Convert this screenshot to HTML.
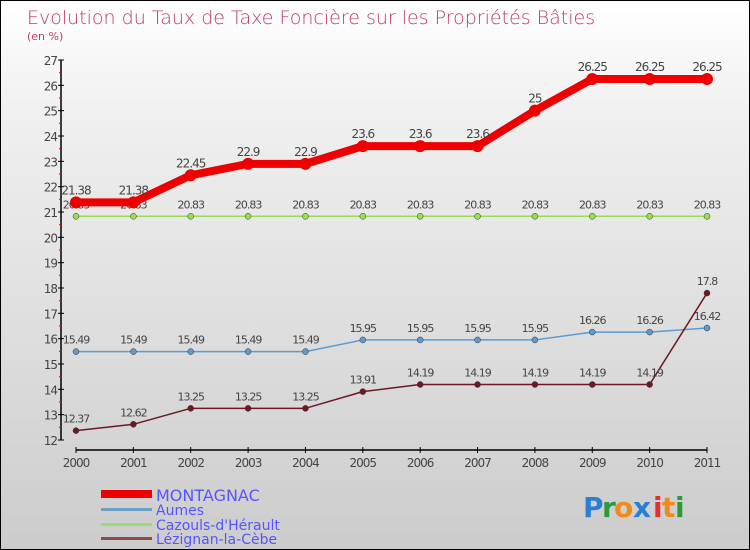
<!DOCTYPE html>
<html><head><meta charset="utf-8"><style>
html,body{margin:0;padding:0}
body{width:750px;height:550px;overflow:hidden}
#wrap{position:relative;width:748px;height:548px;border:1px solid #000;background:linear-gradient(#ffffff,#f0f0f0 20%,#cccccc)}
svg{position:absolute;left:0;top:0}
text{font-family:"DejaVu Sans","Liberation Sans",sans-serif}
</style></head><body>
<div id="wrap">
<svg id="chart" width="748" height="548">
<text x="26" y="23" font-size="19" fill="#c0396a" style="font-weight:200">Evolution du Taux de Taxe Foncière sur les Propriétés Bâties</text>
<text x="26" y="39" font-size="11" fill="#c0396a">(en %)</text>
<text x="155" y="500" font-size="16" fill="#5555ff">MONTAGNAC</text>
<text x="155" y="514" font-size="14" fill="#5555ff">Aumes</text>
<text x="155" y="529" font-size="14" fill="#5555ff">Cazouls-d'Hérault</text>
<text x="155" y="543" font-size="14" fill="#5555ff">Lézignan-la-Cèbe</text>
<rect x="100" y="489" width="51" height="8" fill="#ee0000"/>
<rect x="100" y="507" width="51" height="3" fill="#6fa0c8"/>
<rect x="100" y="522" width="51" height="3" fill="#99dd77"/>
<rect x="100" y="536" width="51" height="3" fill="#8a4a4a"/>
<g font-size="28" font-weight="bold">
<text x="582" y="516" fill="#2a7fd4">P</text><text x="601" y="516" fill="#2a9a3a">r</text><text x="613" y="516" fill="#f08a1a">o</text><text x="632" y="516" fill="#2a7fd4">x</text><text x="652" y="516" fill="#e03030">i</text><text x="661" y="516" fill="#f08a1a">t</text><text x="674" y="516" fill="#2a9a3a">i</text>
</g>
</svg>
</div>
<script>
const years=[2000,2001,2002,2003,2004,2005,2006,2007,2008,2009,2010,2011];
const montagnac=[21.38,21.38,22.45,22.9,22.9,23.6,23.6,23.6,25,26.25,26.25,26.25];
const aumes=[15.49,15.49,15.49,15.49,15.49,15.95,15.95,15.95,15.95,16.26,16.26,16.42];
const cazouls=[20.83,20.83,20.83,20.83,20.83,20.83,20.83,20.83,20.83,20.83,20.83,20.83];
const lezignan=[12.37,12.62,13.25,13.25,13.25,13.91,14.19,14.19,14.19,14.19,14.19,17.8];
const yTicks=[12,13,14,15,16,17,18,19,20,21,22,23,24,25,26,27];
const svg=document.getElementById('chart');
const NS='http://www.w3.org/2000/svg';
const yMin=12,yMax=27,py0=439,py1=59;
const X=i=>75+i*(706-75)/(years.length-1);
const Y=v=>py0-(v-yMin)/(yMax-yMin)*(py0-py1);
function mk(t,a){const e=document.createElementNS(NS,t);for(const k in a)e.setAttribute(k,a[k]);svg.appendChild(e);return e;}
let e;
e=mk('line',{x1:60,y1:py1,x2:60,y2:py0,stroke:'#000','stroke-width':1.5});


e=mk('line',{x1:75,y1:449,x2:706,y2:449,stroke:'#000','stroke-width':1.5});


yTicks.forEach(v=>{
 e=mk('line',{x1:57,x2:63,y1:Y(v),y2:Y(v),stroke:'#000'});
 
 
 if(v<yMax){e=mk('line',{x1:58,x2:61,y1:Y(v+0.5),y2:Y(v+0.5),stroke:'#e00'});
 
 }
 e=mk('text',{x:56,y:Y(v)+5,'text-anchor':'end','font-size':12,fill:'#444','letter-spacing':'-1'});
 e.textContent=v;
 
 
});
years.forEach((y,i)=>{
 e=mk('line',{x1:X(i),x2:X(i),y1:446,y2:452,stroke:'#000'});
 
 
 e=mk('text',{x:X(i),y:466,'text-anchor':'middle','font-size':12,fill:'#444','letter-spacing':'-1'});
 e.textContent=y;
 
 
});
function series(vals,name,color,w,r,lbl,fmt){
 e=mk('polyline',{points:vals.map((v,i)=>X(i)+','+Y(v)).join(' '),fill:'none',stroke:color,'stroke-width':w,'stroke-linejoin':'round'});
 
 
 vals.forEach((v,i)=>{
  e=mk('circle',{cx:X(i),cy:Y(v),r:r,fill:color,stroke:r<4?'#333':'none','stroke-width':0.5});
  
  
  e=mk('text',{x:X(i),y:Y(v)-8,'text-anchor':'middle','font-size':lbl,fill:'#444','letter-spacing':'-1'});
  e.textContent=fmt(v);
  
  
 });
}
const f=v=>String(v);
series(cazouls,'cazouls','#99dd55',1.5,3,11,f);
series(aumes,'aumes','#5b9bd0',1.5,3,11,f);
series(lezignan,'lezignan','#6a1a20',1.5,3,11,f);
series(montagnac,'montagnac','#ee0000',8,6,12,f);
</script>
</body></html>
